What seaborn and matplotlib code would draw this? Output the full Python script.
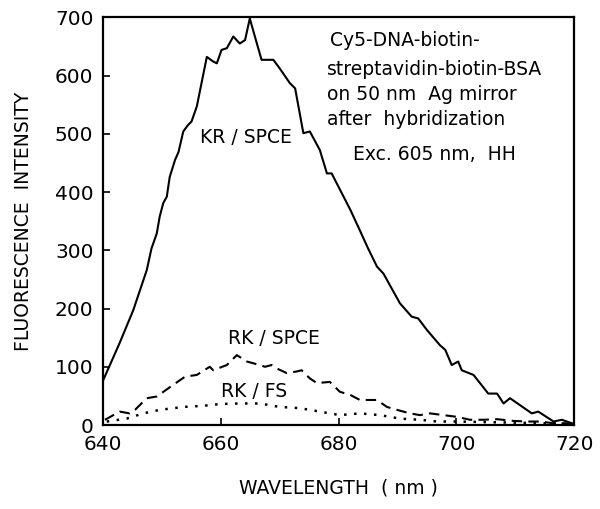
import numpy as np
import pandas as pd
import matplotlib
matplotlib.use("Agg")
import matplotlib.pyplot as plt
import seaborn as sns

sns.set_style("ticks")
plt.rcParams['font.family'] = ['DejaVu Sans']
plt.rcParams['text.color'] = 'black'
plt.rcParams['axes.labelcolor'] = 'black'

# KR/SPCE (solid)
kr_spce_x = [640, 642.8, 645.1, 647.4, 648.2, 649.1, 649.6, 650.2, 650.8, 651.3, 652.2, 652.8,
             653.6, 654.4, 655.0, 655.9, 657.6, 658.7, 659.3, 660.1, 661.0, 662.1, 663.2, 664.1,
             664.9, 666.1, 666.9, 668.9, 670.0, 671.7, 672.6, 674.0, 675.1, 676.8, 678.0, 678.8,
             682.0, 683.6, 685.0, 686.5, 687.6, 690.4, 692.4, 693.5, 695.0, 697.2, 698.1, 699.2,
             700.3, 700.9, 702.9, 705.4, 706.9, 708.0, 709.1, 712.8, 713.9, 716.5, 717.9, 719.6, 720]
kr_spce_y = [77, 141, 197, 266, 303, 329, 358, 381, 392, 426, 455, 469,
             504, 515, 521, 547, 632, 624, 621, 644, 647, 667, 655, 661,
             698, 655, 627, 627, 612, 587, 578, 501, 504, 472, 432, 432,
             369, 334, 303, 272, 260, 209, 186, 183, 163, 137, 129, 103,
             109, 94, 86, 54, 54, 37, 46, 20, 23, 6, 9, 3, 2]

# RK/SPCE (dashed)
rk_spce_x = [640.3, 642.8, 644.5, 645.4, 647.4, 649.1, 651.9, 653.9, 655.9, 658.1, 658.7, 661.0,
             662.7, 664.4, 665.5, 667.5, 668.6, 669.5, 671.2, 672.9, 673.7, 675.1, 676.3, 678.5,
             680.2, 681.9, 683.6, 686.5, 688.2, 689.9, 692.1, 693.8, 695.5, 697.8, 700.1, 702.3,
             704.6, 706.9, 709.7, 712.0, 714.2, 716.5, 718.2, 720]
rk_spce_y = [9, 23, 20, 26, 46, 49, 69, 83, 86, 100, 94, 103,
             120, 109, 106, 100, 103, 97, 89, 92, 94, 80, 72, 74,
             57, 52, 43, 43, 31, 26, 20, 17, 20, 17, 14, 9,
             9, 10, 7, 6, 6, 3, 3, 2]

# RK/FS (dotted)
rk_fs_x = [640.6, 644.0, 646.8, 649.6, 653.6, 657.0, 659.8, 663.2, 666.6, 670.0, 673.4, 676.8,
           680.2, 683.6, 687.0, 690.4, 693.8, 696.7, 700.0, 705.0, 710.0, 715.0, 720]
rk_fs_y = [6, 11, 20, 26, 31, 33, 36, 37, 37, 31, 29, 23,
           17, 20, 17, 11, 9, 6, 6, 5, 4, 3, 2]

info_lines = ["Cy5-DNA-biotin-", "streptavidin-biotin-BSA", "on 50 nm  Ag mirror",
              "after  hybridization"]

fig = plt.figure(figsize=(6, 5.09), dpi=100)
ax = fig.add_axes([0.172, 0.165, 0.785, 0.801])

sns.lineplot(x=kr_spce_x, y=kr_spce_y, ax=ax, color='black', linewidth=1.5)
sns.lineplot(x=rk_spce_x, y=rk_spce_y, ax=ax, color='black', linewidth=1.5,
             linestyle=(0, (5, 3)))
sns.lineplot(x=rk_fs_x, y=rk_fs_y, ax=ax, color='black', linewidth=1.8,
             linestyle=(0, (1, 3)))

ax.set_xlim(640, 720)
ax.set_ylim(0, 700)
ax.set_xticks([640, 660, 680, 700, 720])
ax.set_yticks(range(0, 701, 100))
ax.tick_params(direction='in', length=5, width=1.2, labelsize=14.5, pad=7, colors='black')
for s in ax.spines.values():
    s.set_visible(True)
    s.set_linewidth(1.6)
    s.set_color('black')

ax.set_xlabel("WAVELENGTH  ( nm )", fontsize=13.5, labelpad=18)
ax.set_ylabel("FLUORESCENCE  INTENSITY", fontsize=13.5, labelpad=16)

# curve labels
ax.text(664.3, 494, "KR / SPCE", fontsize=13.5, ha='center', va='center')
ax.text(669.0, 149, "RK / SPCE", fontsize=13.5, ha='center', va='center')
ax.text(665.7, 57, "RK / FS", fontsize=13.5, ha='center', va='center')

# info block
ys = [650, 601, 558, 515]
xs = [678.5, 678.0, 678.0, 678.0]
for t, x, y in zip(info_lines, xs, ys):
    ax.text(x, y, t, fontsize=13.5, ha='left', va='baseline')
ax.text(682.4, 455, "Exc. 605 nm,  HH", fontsize=13.5, ha='left', va='baseline')

fig.savefig("out.png", dpi=100)
